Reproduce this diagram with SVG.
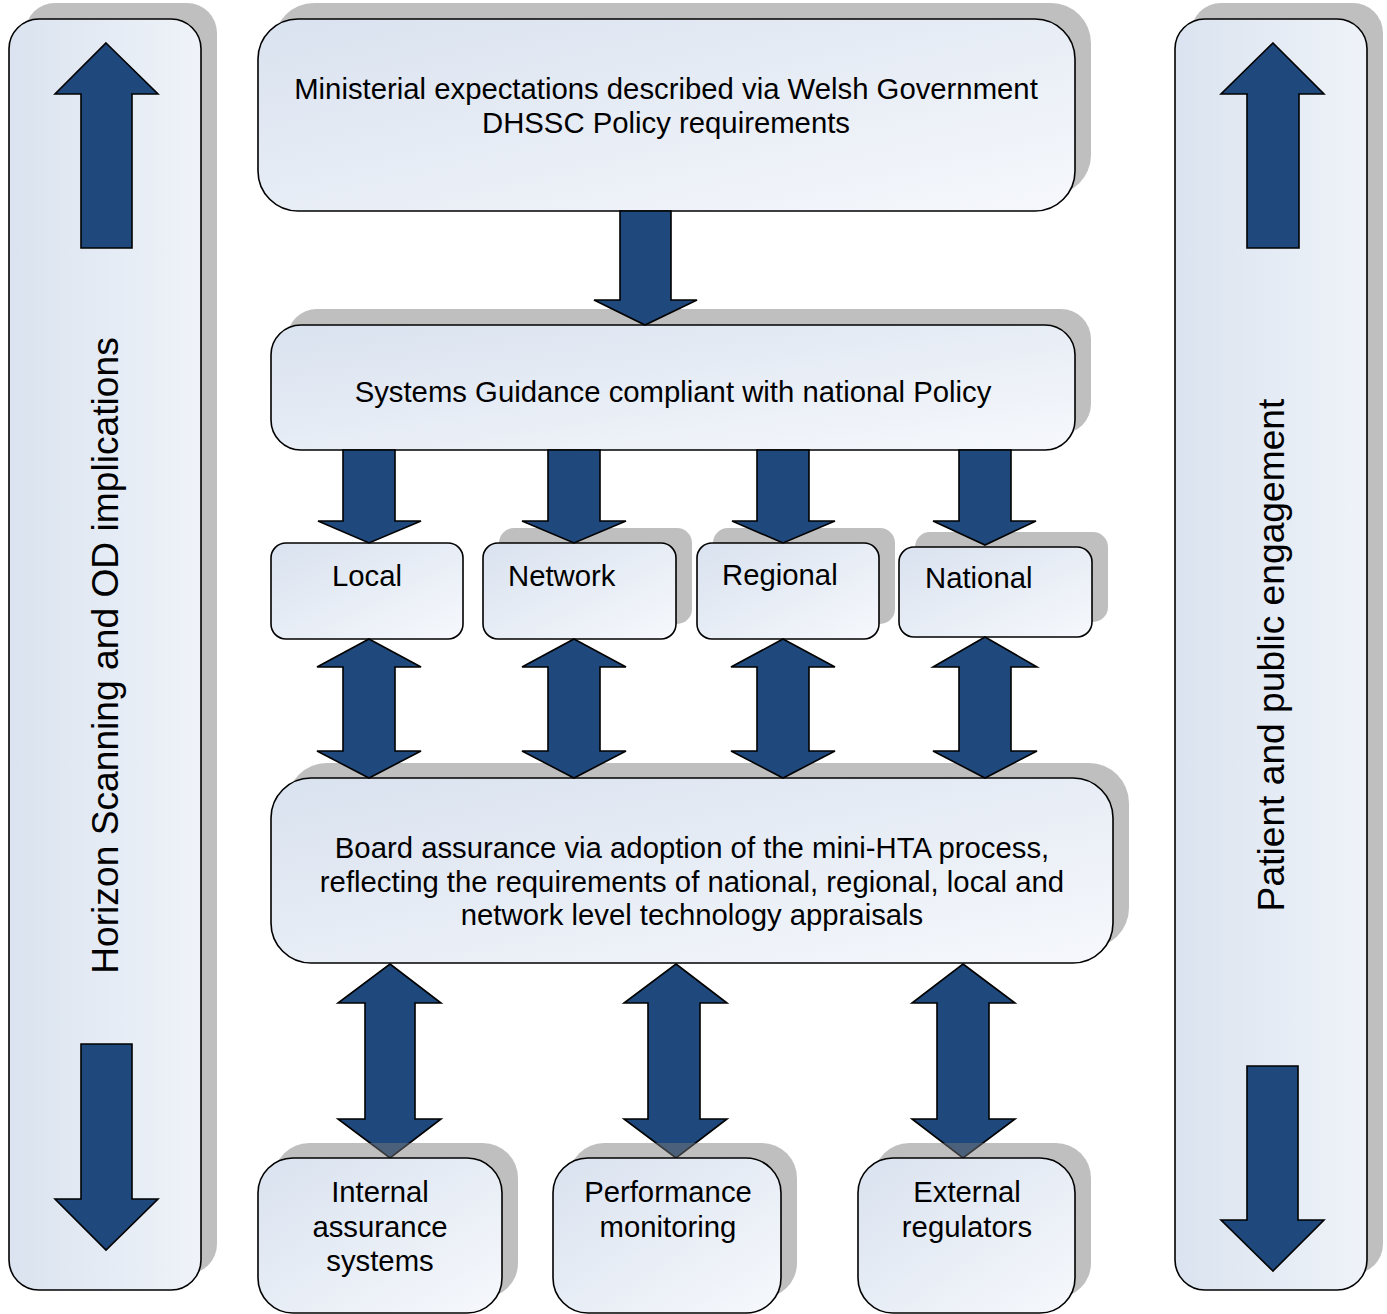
<svg xmlns="http://www.w3.org/2000/svg" width="1387" height="1314" viewBox="0 0 1387 1314">
<defs>
<linearGradient id="boxGrad" x1="0" y1="0" x2="1" y2="1">
<stop offset="0" stop-color="#d9e2ef"/>
<stop offset="1" stop-color="#f6f8fc"/>
</linearGradient>
<linearGradient id="panelGrad" x1="0" y1="0" x2="1" y2="0">
<stop offset="0" stop-color="#dae3ef"/>
<stop offset="1" stop-color="#eff3f9"/>
</linearGradient>
<style>
.box{fill:url(#boxGrad);stroke:#000;stroke-width:1.6}
.panel{fill:url(#panelGrad);stroke:#000;stroke-width:1.6}
.shadow{fill:#797979;fill-opacity:0.48;stroke:none}
.arr{fill:#1f497d;stroke:#000;stroke-width:1.6;stroke-linejoin:miter}
.t{font-family:"Liberation Sans",Arial,sans-serif;font-size:29.3px;fill:#000}
.tm{text-anchor:middle}
.side{font-family:"Liberation Sans",Arial,sans-serif;font-size:37.2px;fill:#000;text-anchor:middle}
</style>
</defs>
<rect width="1387" height="1314" fill="#fff"/>

<g id="panel-horizon">
<rect class="shadow" x="25" y="3" width="192" height="1271" rx="30"/>
<rect class="panel" x="9" y="19" width="192" height="1271" rx="30"/>
<polygon class="arr" points="106,43 158,94 132,94 132,248 81,248 81,94 55,94"/>
<polygon class="arr" points="81,1044 132,1044 132,1199 158,1199 106,1250 55,1199 81,1199"/>
<text class="side" transform="translate(118,655.5) rotate(-90)">Horizon Scanning and OD implications</text>
</g>

<g id="panel-patient">
<rect class="shadow" x="1191" y="3" width="192" height="1271" rx="30"/>
<rect class="panel" x="1175" y="19" width="192" height="1271" rx="30"/>
<polygon class="arr" points="1273,43 1324,94 1299,94 1299,248 1247,248 1247,94 1221,94"/>
<polygon class="arr" points="1247,1066 1298,1066 1298,1220 1324,1220 1273,1271 1221,1220 1247,1220"/>
<text class="side" transform="translate(1284,655) rotate(-90)">Patient and public engagement</text>
</g>

<g id="node-ministerial">
<rect class="shadow" x="274" y="3" width="817" height="192" rx="40"/>
<rect class="box" x="258" y="19" width="817" height="192" rx="40"/>
<text class="t tm" x="666" y="99">Ministerial expectations described via Welsh Government</text>
<text class="t tm" x="666" y="133">DHSSC Policy requirements</text>
</g>

<g id="node-systems">
<rect class="shadow" x="287" y="309" width="804" height="125" rx="30"/>
<rect class="box" x="271" y="325" width="804" height="125" rx="30"/>
<text class="t tm" x="673" y="402">Systems Guidance compliant with national Policy</text>
</g>

<g id="node-local">
<rect class="box" x="271" y="543" width="192" height="96" rx="15"/>
<text class="t tm" x="367" y="586">Local</text>
</g>

<g id="node-network">
<rect class="shadow" x="499" y="528" width="193" height="96" rx="15"/>
<rect class="box" x="483" y="543" width="193" height="96" rx="15"/>
<text class="t" x="508" y="586">Network</text>
</g>

<g id="node-regional">
<rect class="shadow" x="713" y="528" width="182" height="96" rx="15"/>
<rect class="box" x="697" y="543" width="182" height="96" rx="15"/>
<text class="t" x="722" y="585">Regional</text>
</g>

<g id="node-national">
<rect class="shadow" x="915" y="532" width="193" height="90" rx="15"/>
<rect class="box" x="899" y="547" width="193" height="90" rx="15"/>
<text class="t" x="925" y="588">National</text>
</g>

<g id="node-board">
<rect class="shadow" x="287" y="763" width="842" height="185" rx="40"/>
<rect class="box" x="271" y="778" width="842" height="185" rx="40"/>
<text class="t tm" x="692" y="858">Board assurance via adoption of the mini-HTA process,</text>
<text class="t tm" x="692" y="892">reflecting the requirements of national, regional, local and</text>
<text class="t tm" x="692" y="925">network level technology appraisals</text>
</g>

<g id="connectors">
<polygon class="arr" points="620,211 671,211 671,300 697,300 645,325 594,300 620,300"/>
<polygon class="arr" points="343,450 395,450 395,521 421,521 369,543 318,521 343,521"/>
<polygon class="arr" points="548,450 600,450 600,521 626,521 574,543 522,521 548,521"/>
<polygon class="arr" points="757,450 809,450 809,521 835,521 783,543 732,521 757,521"/>
<polygon class="arr" points="959,450 1011,450 1011,521 1036,521 985,545 933,521 959,521"/>
<polygon class="arr" points="369,639 421,667 395,667 395,751 421,751 369,778 317,751 343,751 343,667 317,667"/>
<polygon class="arr" points="574,639 626,667 600,667 600,751 626,751 574,778 522,751 548,751 548,667 522,667"/>
<polygon class="arr" points="783,639 835,667 809,667 809,751 835,751 783,778 731,751 757,751 757,667 731,667"/>
<polygon class="arr" points="985,637 1037,667 1011,667 1011,751 1037,751 985,778 933,751 959,751 959,667 933,667"/>
<polygon class="arr" points="390,964 441,1003 415,1003 415,1119 441,1119 390,1158 338,1119 365,1119 365,1003 338,1003"/>
<polygon class="arr" points="676,964 727,1003 700,1003 700,1119 727,1119 676,1158 624,1119 648,1119 648,1003 624,1003"/>
<polygon class="arr" points="963,964 1015,1003 989,1003 989,1119 1015,1119 963,1158 912,1119 937,1119 937,1003 912,1003"/>
</g>

<g id="node-internal">
<rect class="shadow" x="274" y="1143" width="244" height="155" rx="35"/>
<rect class="box" x="258" y="1158" width="244" height="155" rx="35"/>
<text class="t tm" x="380" y="1202">Internal</text>
<text class="t tm" x="380" y="1237">assurance</text>
<text class="t tm" x="380" y="1271">systems</text>
</g>

<g id="node-performance">
<rect class="shadow" x="569" y="1143" width="228" height="155" rx="35"/>
<rect class="box" x="553" y="1158" width="228" height="155" rx="35"/>
<text class="t tm" x="668" y="1202">Performance</text>
<text class="t tm" x="668" y="1237">monitoring</text>
</g>

<g id="node-external">
<rect class="shadow" x="874" y="1143" width="217" height="155" rx="35"/>
<rect class="box" x="858" y="1158" width="217" height="155" rx="35"/>
<text class="t tm" x="967" y="1202">External</text>
<text class="t tm" x="967" y="1237">regulators</text>
</g>
</svg>
